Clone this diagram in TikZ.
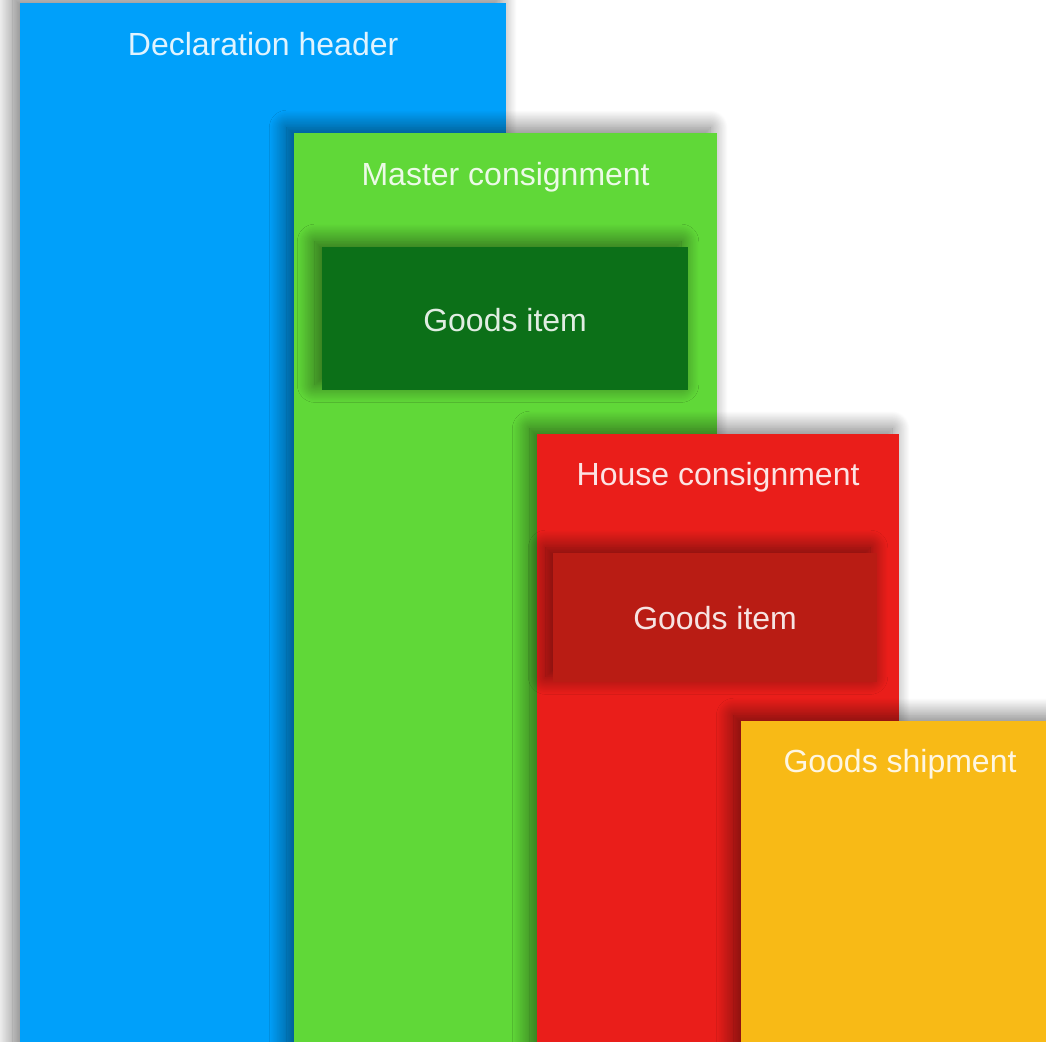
\documentclass[tikz,border=0pt]{standalone}
\usepackage{fontspec}
\setmainfont{Liberation Sans}
\usetikzlibrary{positioning}
\usetikzlibrary{shadows.blur}
\tikzset{panel/.style = {anchor=north west, inner sep=0, outer sep=0,
    blur shadow={shadow xshift=-2pt, shadow yshift=1.5pt, shadow blur radius=5pt,
      shadow blur steps=30, shadow opacity=55}}}
\tikzset{caption/.style = {anchor=base, text=white, text opacity=0.88, inner sep=0,
    font=\fontsize{9.1}{11}\selectfont}}
\definecolor{hblue}{RGB}{0, 160, 250}
\definecolor{mgreen}{RGB}{96, 216, 56}
\definecolor{igreen}{RGB}{12, 112, 24}
\definecolor{hred}{RGB}{234, 30, 26}
\definecolor{ired}{RGB}{185, 28, 20}
\definecolor{gyellow}{RGB}{248, 186, 22}

\begin{document}
\begin{tikzpicture}[x=0.01cm, y=-0.01cm]
    \useasboundingbox (0, 0) rectangle (1046, 1041);

    % declaration header
    \node [panel, fill=hblue, minimum width=4.86cm, minimum height=10.8cm] (header) at (20, 3) {};
    \node [caption] (headertext) at ([yshift=-0.52cm]header.north) {Declaration header};

    % master consignment and its goods item
    \node [panel, fill=mgreen, minimum width=4.23cm, minimum height=9.4cm] (master) at (294, 133) {};
    \node [caption] (mastertext) at ([yshift=-0.52cm]master.north) {Master consignment};
    \node [panel, fill=igreen, minimum width=3.66cm, minimum height=1.43cm] (mitem) at (322, 247) {};
    \node [caption] (mitemtext) at ([yshift=-0.125cm]mitem.center) {Goods item};

    % house consignment and its goods item
    \node [panel, fill=hred, minimum width=3.62cm, minimum height=6.3cm] (house) at (537, 434) {};
    \node [caption] (housetext) at ([yshift=-0.51cm]house.north) {House consignment};
    \node [panel, fill=ired, minimum width=3.24cm, minimum height=1.29cm] (hitem) at (553, 553) {};
    \node [caption] (hitemtext) at ([yshift=-0.12cm]hitem.center) {Goods item};

    % goods shipment
    \node [panel, fill=gyellow, minimum width=3.2cm, minimum height=3.4cm] (shipment) at (741, 721) {};
    \node [caption] (shipmenttext) at (900, 772) {Goods shipment};
  \end{tikzpicture}
\end{document}
